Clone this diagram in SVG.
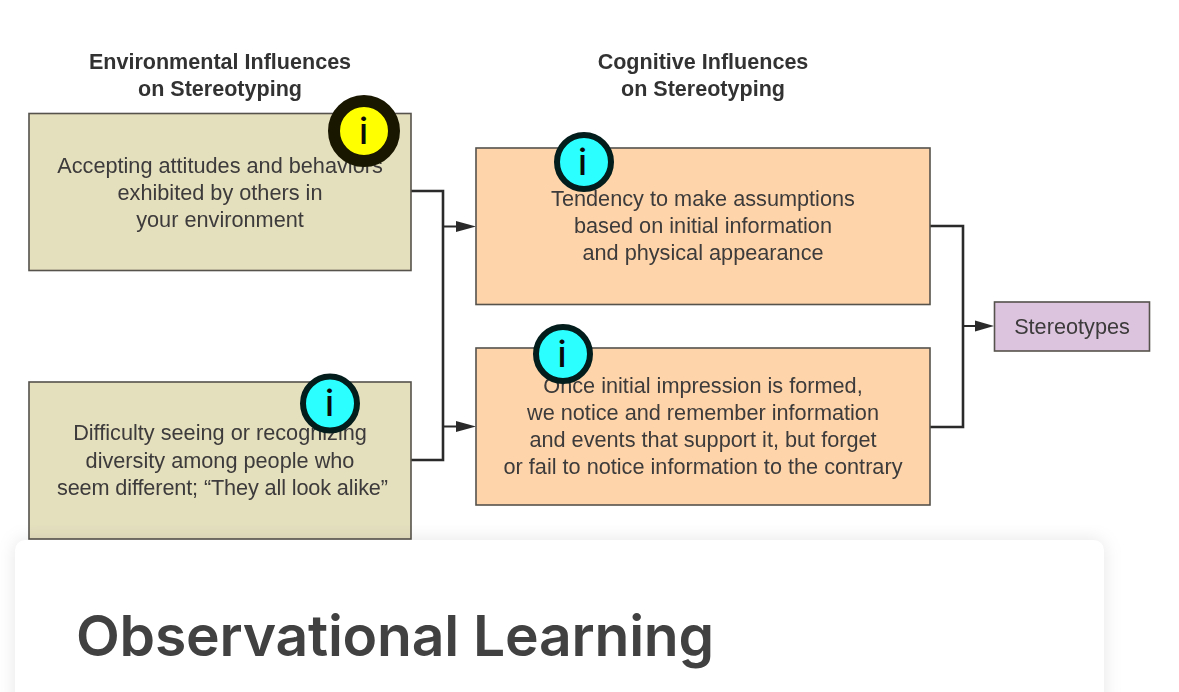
<svg xmlns="http://www.w3.org/2000/svg" width="1179" height="692" viewBox="0 0 1179 692">
<defs>
<style>
.box{stroke:#55524c;stroke-width:1.6}
.t{font-family:"Liberation Sans",Arial,sans-serif;font-size:21.7px;fill:#3c3a3a;text-anchor:middle}
.h{font-family:"Liberation Sans",Arial,sans-serif;font-size:21.55px;font-weight:700;fill:#333;text-anchor:middle}
.c{fill:none;stroke:#2b2b2b;stroke-width:2.6}
.st{fill:none;stroke:#2b2b2b;stroke-width:2}
.a{fill:#2b2b2b}
.soft{filter:url(#b)}
.i{font-family:Inter,"Liberation Sans",sans-serif;font-size:36px;font-weight:500;fill:#0a0a0a;text-anchor:middle}
.ring{stroke:#031c1c}
</style>
<filter id="b" x="-5%" y="-5%" width="110%" height="110%"><feGaussianBlur stdDeviation="0.45"/></filter>
<filter id="s" x="-10%" y="-20%" width="120%" height="140%"><feGaussianBlur stdDeviation="9"/></filter>
<clipPath id="sc"><rect x="0" y="525" width="1134" height="167"/></clipPath>
</defs>
<rect width="1179" height="692" fill="#fff"/>
<g id="connectors" class="soft">
<path class="c" d="M411 191H443V460H411"/>
<path class="st" d="M443 226.500H458"/>
<path class="a" d="M456 221L476 226.500L456 232Z"/>
<path class="st" d="M443 426.500H458"/>
<path class="a" d="M456 421L476 426.500L456 432Z"/>
<path class="c" d="M930 226H963V427H930"/>
<path class="st" d="M963 326H978"/>
<path class="a" d="M975 320.500L994 326L975 331.500Z"/>
</g>
<g id="env-heading" class="soft">
<text class="h" x="220" y="69">Environmental Influences</text>
<text class="h" x="220" y="96">on Stereotyping</text>
</g>
<g id="cog-heading" class="soft">
<text class="h" x="703" y="69">Cognitive Influences</text>
<text class="h" x="703" y="96">on Stereotyping</text>
</g>
<g id="node-accepting" class="soft">
<rect class="box" x="29" y="113.500" width="382" height="157" fill="#e4dfbd"/>
<text class="t" x="220" y="173">Accepting attitudes and behaviors</text>
<text class="t" x="220" y="200">exhibited by others in</text>
<text class="t" x="220" y="227">your environment</text>
</g>
<g id="node-difficulty" class="soft">
<rect class="box" x="29" y="382" width="382" height="157" fill="#e4dfbd"/>
<text class="t" x="220" y="440">Difficulty seeing or recognizing</text>
<text class="t" x="220" y="468">diversity among people who</text>
<text class="t" x="222.500" y="495" textLength="331">seem different; “They all look alike”</text>
</g>
<g id="node-tendency" class="soft">
<rect class="box" x="476" y="148" width="454" height="156.500" fill="#fed5aa"/>
<text class="t" x="703" y="206">Tendency to make assumptions</text>
<text class="t" x="703" y="233">based on initial information</text>
<text class="t" x="703" y="260">and physical appearance</text>
</g>
<g id="node-once" class="soft">
<rect class="box" x="476" y="348" width="454" height="157" fill="#fed5aa"/>
<text class="t" x="703" y="393">Once initial impression is formed,</text>
<text class="t" x="703" y="420">we notice and remember information</text>
<text class="t" x="703" y="447">and events that support it, but forget</text>
<text class="t" x="703" y="474">or fail to notice information to the contrary</text>
</g>
<g id="node-stereotypes" class="soft">
<rect class="box" x="994.500" y="302" width="155" height="49" fill="#dcc4de"/>
<text class="t" x="1072" y="334">Stereotypes</text>
</g>
<g id="marker-yellow">
<circle cx="364" cy="131" r="30" fill="#ffff00" stroke="#191700" stroke-width="12"/>
<text class="i" x="363.500" y="144">i</text>
</g>
<g id="marker-difficulty">
<circle class="ring" cx="330" cy="403.500" r="27" fill="#2bffff" stroke-width="6"/>
<text class="i" x="329.500" y="416">i</text>
</g>
<g id="marker-tendency">
<circle class="ring" cx="584" cy="162" r="27" fill="#2bffff" stroke-width="6"/>
<text class="i" x="582.500" y="175">i</text>
</g>
<g id="marker-once">
<circle class="ring" cx="563" cy="354" r="27" fill="#2bffff" stroke-width="6"/>
<text class="i" x="562" y="367">i</text>
</g>
<g id="card">
<g clip-path="url(#sc)"><rect x="15" y="540" width="1089" height="200" rx="10" fill="#000" fill-opacity=".1" filter="url(#s)"/></g>
<rect x="15" y="540" width="1089" height="170" rx="10" fill="#fff"/>
<text x="76" y="656" font-family="Inter,'Liberation Sans',sans-serif" font-size="57" letter-spacing="-0.23" font-weight="600" fill="#414141">Observational Learning</text>
</g>
</svg>
